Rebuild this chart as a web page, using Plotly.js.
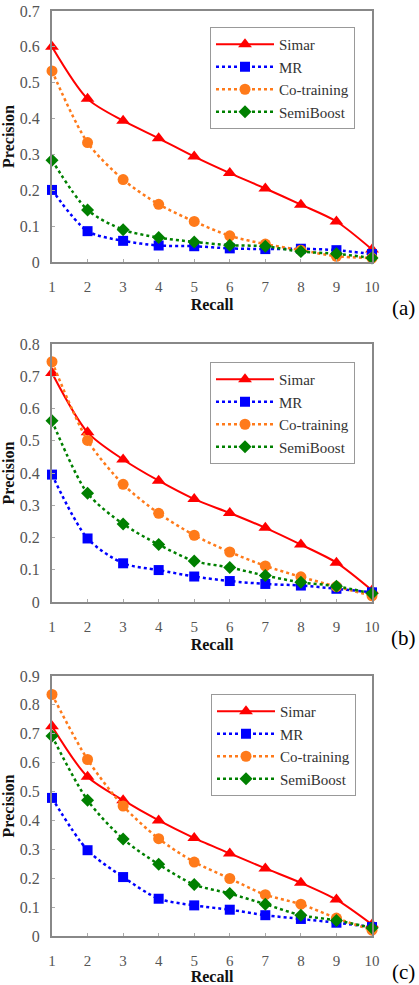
<!DOCTYPE html>
<html>
<head>
<meta charset="utf-8">
<script src="https://cdn.plot.ly/plotly-3.0.1.min.js"></script>
<style>
html,body{margin:0;padding:0;background:#fff;}
#chart{width:419px;height:985px;}
</style>
</head>
<body>
<div id="chart"></div>
<script>
// ---- data ----
const recall = [1, 2, 3, 4, 5, 6, 7, 8, 9, 10];
const seriesNames = ["Simar", "MR", "Co-training", "SemiBoost"];
const panelLabels = ["(a)", "(b)", "(c)"];

// panel (a)
const simarA = [0.600, 0.455, 0.394, 0.345, 0.294, 0.248, 0.205, 0.160, 0.113, 0.035];
const mrA    = [0.201, 0.086, 0.059, 0.046, 0.044, 0.038, 0.036, 0.037, 0.033, 0.022];
const coA    = [0.533, 0.333, 0.230, 0.161, 0.113, 0.073, 0.050, 0.033, 0.016, 0.011];
const semiA  = [0.284, 0.145, 0.090, 0.068, 0.056, 0.047, 0.044, 0.029, 0.023, 0.011];

// panel (b)
const simarB = [0.710, 0.526, 0.442, 0.376, 0.319, 0.276, 0.230, 0.178, 0.122, 0.036];
const mrB    = [0.395, 0.197, 0.120, 0.099, 0.079, 0.065, 0.056, 0.051, 0.041, 0.030];
const coB    = [0.745, 0.501, 0.365, 0.275, 0.207, 0.155, 0.112, 0.078, 0.048, 0.019];
const semiB  = [0.562, 0.337, 0.242, 0.178, 0.127, 0.107, 0.082, 0.061, 0.049, 0.026];

// panel (c)
const simarC = [0.726, 0.551, 0.470, 0.400, 0.339, 0.286, 0.234, 0.184, 0.126, 0.040];
const mrC    = [0.478, 0.297, 0.204, 0.129, 0.106, 0.091, 0.072, 0.059, 0.046, 0.031];
const coC    = [0.836, 0.611, 0.450, 0.337, 0.256, 0.199, 0.143, 0.110, 0.062, 0.020];
const semiC  = [0.692, 0.470, 0.336, 0.248, 0.178, 0.147, 0.110, 0.072, 0.054, 0.028];

const yMax = [0.7, 0.8, 0.9];

// ---- styles ----
const styles = [
  {color: "#FF0000", dash: "solid", width: 2, symbol: "triangle-up", size: 12},
  {color: "#0000FF", dash: "dot", width: 2.5, symbol: "square", size: 10},
  {color: "#FF7A1A", dash: "dot", width: 2.5, symbol: "circle", size: 11},
  {color: "#008000", dash: "dot", width: 2.5, symbol: "diamond", size: 10}
];

const panels = [
  [simarA, mrA, coA, semiA],
  [simarB, mrB, coB, semiB],
  [simarC, mrC, coC, semiC]
];

const W = 419, H = 985;
const ML = 52, MR = 47, MT = 11, MB = 49;
const plotH = H - MT - MB;
const panelPx = [[11, 262], [344, 602], [676, 936]];   // top/bottom pixel of each plot area
const legendPx = [[210, 27], [210, 362], [211, 694]];
const labelPx = [308, 638, 972];

function fy(py) { return (H - MB - py) / plotH; }
function fx(px) { return (px - ML) / (W - ML - MR); }

const font = '"Liberation Serif", "Times New Roman", serif';
const traces = [];
const layout = {
  width: W, height: H,
  margin: {l: ML, r: MR, t: MT, b: MB},
  paper_bgcolor: "#fff", plot_bgcolor: "#fff",
  font: {family: font, color: "#222"},
  annotations: []
};

panels.forEach((ser, p) => {
  const ax = p === 0 ? "" : String(p + 1);
  const leg = p === 0 ? "legend" : "legend" + (p + 1);
  ser.forEach((vals, s) => {
    const st = styles[s];
    traces.push({
      x: recall, y: vals,
      xaxis: "x" + ax, yaxis: "y" + ax,
      name: seriesNames[s],
      legend: leg,
      type: "scatter", mode: "lines+markers",
      cliponaxis: false,
      line: {color: st.color, dash: st.dash, width: st.width, shape: "spline", smoothing: 0.8},
      marker: {color: st.color, symbol: st.symbol, size: st.size}
    });
  });
  const dom = [fy(panelPx[p][1]), fy(panelPx[p][0])];
  layout["xaxis" + ax] = {
    domain: [0, 1], anchor: "y" + ax, range: [1, 10],
    tickvals: recall, ticktext: recall.map(String),
    ticks: "inside", ticklen: 3, tickcolor: "#aaa",
    showline: true, linecolor: "#888", linewidth: 2, mirror: true,
    showgrid: false, zeroline: false,
    tickfont: {family: font, size: 15, color: "#555"},
    ticklabelstandoff: 10,
    title: {text: "<b>Recall</b>", font: {family: font, size: 16, color: "#111"}, standoff: 5}
  };
  layout["yaxis" + ax] = {
    domain: dom, anchor: "x" + ax, range: [0, yMax[p]],
    dtick: 0.1, tick0: 0,
    ticks: "inside", ticklen: 3, tickcolor: "#aaa",
    showline: true, linecolor: "#888", linewidth: 2, mirror: true,
    showgrid: false, zeroline: false,
    tickfont: {family: font, size: 16, color: "#555"},
    ticklabelstandoff: 7,
    title: {text: "<b>Precision</b>", font: {family: font, size: 16, color: "#111"}, standoff: 3}
  };
  layout[leg] = {
    x: fx(legendPx[p][0]), y: fy(legendPx[p][1]),
    xanchor: "left", yanchor: "top",
    xref: "paper", yref: "paper",
    bgcolor: "#fff", bordercolor: "#999", borderwidth: 1,
    font: {family: font, size: 15, color: "#333"},
    itemwidth: 58,
    tracegroupgap: 0
  };
  layout.annotations.push({
    text: panelLabels[p], xref: "paper", yref: "paper",
    x: fx(403), y: fy(labelPx[p]), xanchor: "center", yanchor: "middle",
    showarrow: false, font: {family: font, size: 21, color: "#000"}
  });
});

Plotly.newPlot("chart", traces, layout, {displayModeBar: false, staticPlot: true});
</script>
</body>
</html>
